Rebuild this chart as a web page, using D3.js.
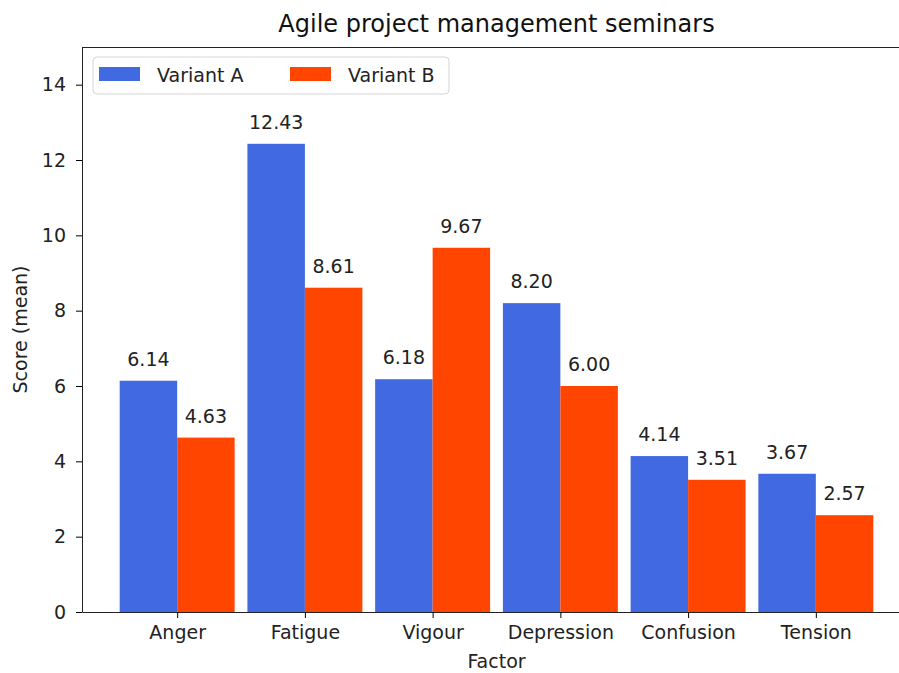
<!DOCTYPE html>
<html>
<head>
<meta charset="utf-8">
<script src="https://cdn.jsdelivr.net/npm/d3@7"></script>
<style>
  body { margin: 0; background: #fff; }
  svg { display: block; font-family: "DejaVu Sans", sans-serif; }
</style>
</head>
<body>
<div id="chart"></div>
<script>
// Data
const factors = ["Anger", "Fatigue", "Vigour", "Depression", "Confusion", "Tension"];
const variantA = [6.14, 12.43, 6.18, 8.20, 4.14, 3.67];
const variantB = [4.63, 8.61, 9.67, 6.00, 3.51, 2.57];
const seriesNames = ["Variant A", "Variant B"];
const yTicks = [0, 2, 4, 6, 8, 10, 12, 14];

const W = 899, H = 673;
const plot = { left: 82, right: 911, top: 47, bottom: 612 };
const colors = ["#4169e1", "#ff4500"];
const barW = 0.45;
const fs = "19px";

const svg = d3.select("#chart")
    .append("svg")
    .attr("width", W)
    .attr("height", H);

// x in "category index" units, like matplotlib's bar positions
const x = d3.scaleLinear()
    .domain([-0.745, factors.length - 1 + 0.745])
    .range([plot.left, plot.right]);

const y = d3.scaleLinear()
    .domain([0, 15])
    .range([plot.bottom, plot.top]);

const series = [variantA, variantB];

// Bars
series.forEach((vals, s) => {
    svg.append("g")
        .selectAll("rect")
        .data(vals)
        .enter()
        .append("rect")
        .attr("x", (d, i) => x(i + (s === 0 ? -barW : 0)))
        .attr("width", (d, i) => x(i + barW) - x(i))
        .attr("y", d => y(d))
        .attr("height", d => y(0) - y(d))
        .attr("fill", colors[s]);

    // Value labels
    svg.append("g")
        .selectAll("text")
        .data(vals)
        .enter()
        .append("text")
        .attr("x", (d, i) => x(i + (s === 0 ? -barW / 2 : barW / 2)))
        .attr("y", d => y(d) - 15)
        .attr("text-anchor", "middle")
        .attr("font-size", fs)
        .attr("fill", "#222")
        .text(d => d.toFixed(2));
});

// Axes
const yAxis = svg.append("g")
    .attr("transform", `translate(${plot.left},0)`)
    .call(d3.axisLeft(y).tickValues(yTicks).tickSize(6).tickPadding(10).tickSizeOuter(0));
yAxis.selectAll("text").attr("font-size", fs).attr("fill", "#222").attr("font-family", "DejaVu Sans");
yAxis.select(".domain").attr("stroke", "#222");

const xAxis = svg.append("g")
    .attr("transform", `translate(0,${plot.bottom})`)
    .call(d3.axisBottom(x).tickValues(d3.range(factors.length))
        .tickFormat(i => factors[i]).tickSize(6).tickPadding(8).tickSizeOuter(0));
xAxis.selectAll("text").attr("font-size", fs).attr("fill", "#222").attr("font-family", "DejaVu Sans");
xAxis.select(".domain").attr("stroke", "#222");

// Top spine
svg.append("line")
    .attr("x1", plot.left).attr("x2", plot.right)
    .attr("y1", plot.top + 0.5).attr("y2", plot.top + 0.5)
    .attr("stroke", "#222");

// Title and axis labels
svg.append("text")
    .attr("x", (plot.left + plot.right) / 2)
    .attr("y", 32)
    .attr("text-anchor", "middle")
    .attr("font-size", "24px")
    .attr("fill", "#111")
    .text("Agile project management seminars");

svg.append("text")
    .attr("x", (plot.left + plot.right) / 2)
    .attr("y", 668)
    .attr("text-anchor", "middle")
    .attr("font-size", fs)
    .attr("fill", "#222")
    .text("Factor");

svg.append("text")
    .attr("transform", `translate(27,${(plot.top + plot.bottom) / 2}) rotate(-90)`)
    .attr("text-anchor", "middle")
    .attr("font-size", fs)
    .attr("fill", "#222")
    .text("Score (mean)");

// Legend
const legend = svg.append("g").attr("transform", "translate(93,57)");
legend.append("rect")
    .attr("width", 356).attr("height", 37)
    .attr("rx", 4)
    .attr("fill", "#fff").attr("fill-opacity", 0.8)
    .attr("stroke", "#d6d6d6");

const legendX = [6, 197];
seriesNames.forEach((name, s) => {
    const g = legend.append("g").attr("transform", `translate(${legendX[s]},0)`);
    g.append("rect")
        .attr("y", 10).attr("width", 41).attr("height", 14)
        .attr("fill", colors[s]);
    g.append("text")
        .attr("x", 58).attr("y", 25)
        .attr("font-size", fs)
        .attr("fill", "#222")
        .text(name);
});
</script>
</body>
</html>
